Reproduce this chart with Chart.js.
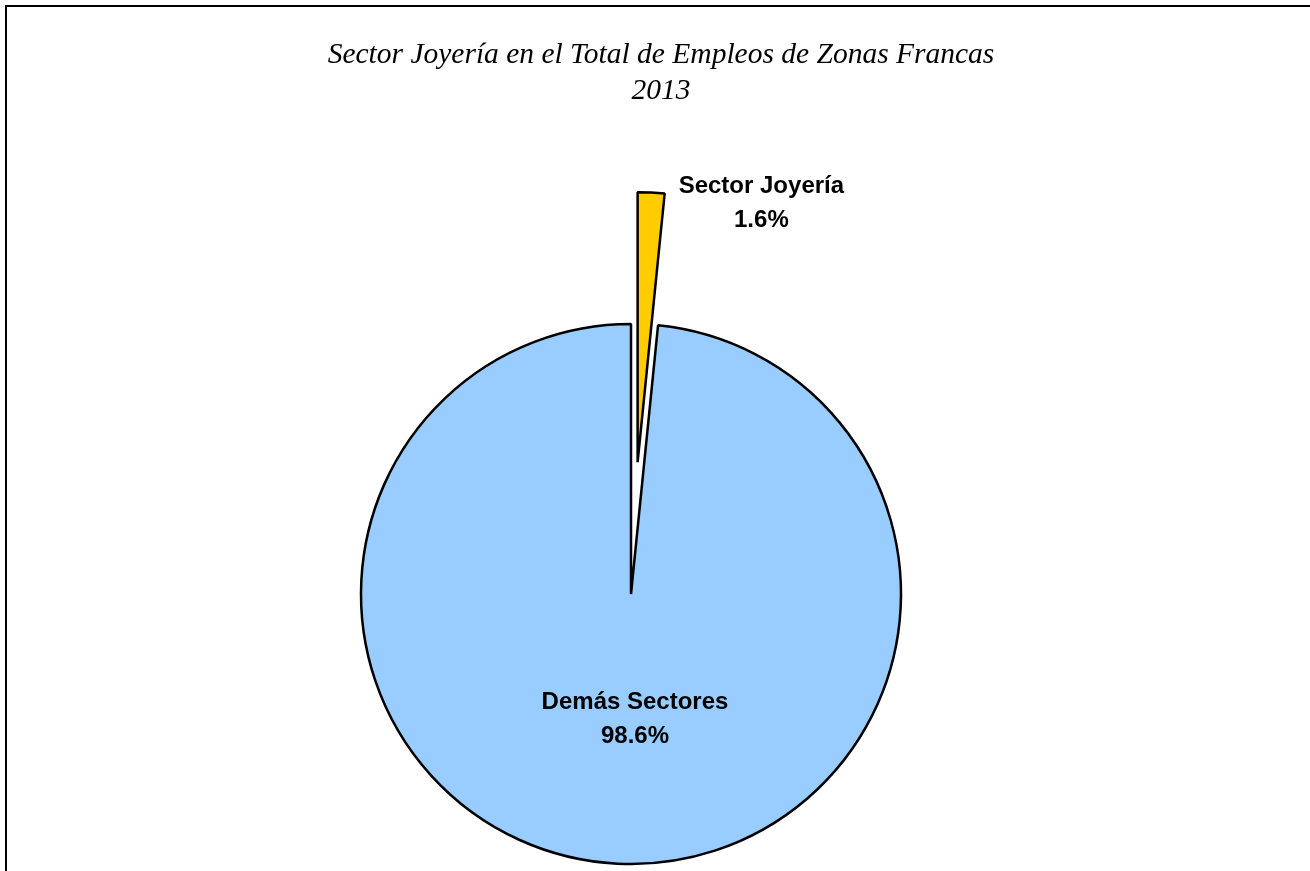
<!DOCTYPE html>
<html>
<head>
<meta charset="utf-8">
<script src="https://cdn.jsdelivr.net/npm/chart.js@4/dist/chart.umd.min.js"></script>
<style>
  html, body { margin: 0; padding: 0; background: #ffffff; }
  #c { display: block; }
</style>
</head>
<body>
<canvas id="c" width="1310" height="871"></canvas>
<script>
const titleLines = ['Sector Joyería en el Total de Empleos de Zonas Francas', '2013'];
const categories = ['Sector Joyería', 'Demás Sectores'];
const shares = [1.6, 98.6];
const shareLabels = ['1.6%', '98.6%'];
const sliceColors = ['#FFCC00', '#99CCFF'];
const sliceExplode = [132, 0];

// Excel-style explosion: move the whole slice outward without changing its radius or angle
const baseArcDraw = Chart.ArcElement.prototype.draw;
Chart.ArcElement.prototype.draw = function (ctx) {
  const ex = this.$explode || 0;
  if (!ex) return baseArcDraw.call(this, ctx);
  const half = (this.startAngle + this.endAngle) / 2;
  ctx.save();
  ctx.translate(Math.cos(half) * ex, Math.sin(half) * ex);
  baseArcDraw.call(this, ctx);
  ctx.restore();
};

const explodePlugin = {
  id: 'explode',
  beforeDatasetDraw(chart, args) {
    args.meta.data.forEach((arc, i) => { arc.$explode = sliceExplode[i] || 0; });
  }
};

const framePlugin = {
  id: 'frame',
  beforeDraw(chart) {
    const ctx = chart.ctx;
    ctx.save();
    ctx.fillStyle = '#ffffff';
    ctx.fillRect(0, 0, chart.width, chart.height);
    ctx.strokeStyle = '#000000';
    ctx.lineWidth = 2;
    ctx.beginPath();
    ctx.moveTo(6, chart.height + 5);
    ctx.lineTo(6, 6);
    ctx.lineTo(chart.width + 5, 6);
    ctx.stroke();
    ctx.restore();
  },
  afterDraw(chart) {
    const ctx = chart.ctx;
    ctx.save();
    ctx.fillStyle = '#000000';
    ctx.font = 'italic 29.5px "Liberation Serif", "Times New Roman", serif';
    ctx.textAlign = 'center';
    ctx.textBaseline = 'alphabetic';
    ctx.fillText(titleLines[0], 661, 63);
    ctx.fillText(titleLines[1], 661, 99);
    ctx.restore();
  }
};

const labelPlugin = {
  id: 'sliceLabels',
  afterDatasetsDraw(chart) {
    const ctx = chart.ctx;
    const meta = chart.getDatasetMeta(0);
    ctx.save();
    ctx.fillStyle = '#000000';
    ctx.font = 'bold 24px "Liberation Sans", Arial, sans-serif';
    ctx.textAlign = 'center';
    ctx.textBaseline = 'middle';
    const lh = 34;
    meta.data.forEach((arc, i) => {
      const p = arc.getProps(['x', 'y', 'startAngle', 'endAngle', 'outerRadius']);
      const lines = [categories[i], shareLabels[i]];
      let cx, cy;
      if (sliceExplode[i]) {
        // exploded thin slice: label outside, right of the slice's outer corner
        const half = (p.startAngle + p.endAngle) / 2;
        const ox = p.x + Math.cos(half) * sliceExplode[i];
        const oy = p.y + Math.sin(half) * sliceExplode[i];
        const endX = ox + Math.cos(p.endAngle) * p.outerRadius;
        const endY = oy + Math.sin(p.endAngle) * p.outerRadius;
        const w = Math.max(...lines.map(t => ctx.measureText(t).width));
        cx = endX + 14 + w / 2;
        cy = endY + 10;
      } else {
        cx = p.x + 4;
        cy = p.y + p.outerRadius * 0.465;
      }
      ctx.fillText(lines[0], cx, cy - lh / 2);
      ctx.fillText(lines[1], cx, cy + lh / 2);
    });
    ctx.restore();
  }
};

new Chart(document.getElementById('c'), {
  type: 'pie',
  data: {
    labels: categories,
    datasets: [{
      data: shares,
      backgroundColor: sliceColors,
      borderColor: '#000000',
      borderWidth: 2.5,
      hoverOffset: 0
    }]
  },
  options: {
    responsive: false,
    animation: false,
    events: [],
    radius: 270,
    rotation: 0,
    layout: { padding: { left: 0, right: 48, top: 317, bottom: 0 } },
    plugins: {
      legend: { display: false },
      title: { display: false },
      tooltip: { enabled: false }
    }
  },
  plugins: [explodePlugin, framePlugin, labelPlugin]
});
</script>
</body>
</html>
